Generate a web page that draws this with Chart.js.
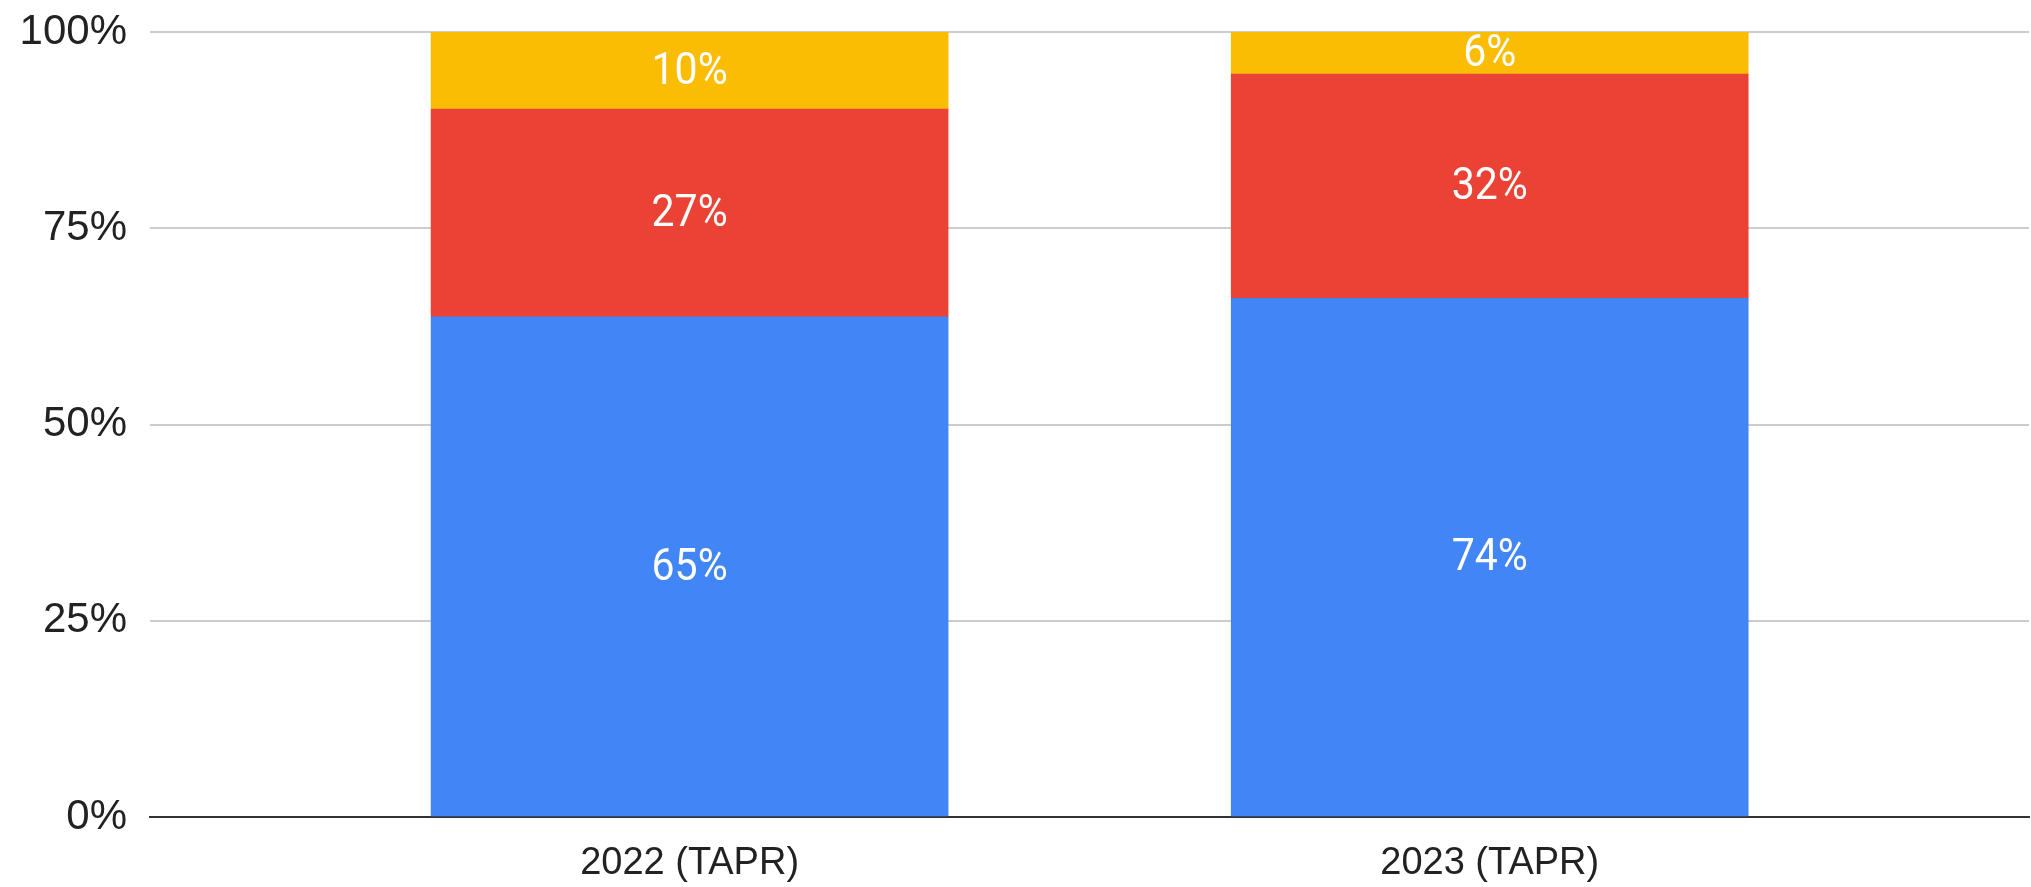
<!DOCTYPE html>
<html>
<head>
<meta charset="utf-8">
<script src="https://cdn.jsdelivr.net/npm/chart.js@4/dist/chart.umd.min.js"></script>
<style>
  html, body { margin: 0; padding: 0; background: #ffffff; }
  #wrap { width: 2031px; height: 887px; }
</style>
</head>
<body>
<div id="wrap"><canvas id="c" width="2031" height="887"></canvas></div>
<script>
const categories = ['2022 (TAPR)', '2023 (TAPR)'];
const blueValues = [65, 74];
const redValues = [27, 32];
const yellowValues = [10, 6];
const yTickValues = [0, 25, 50, 75, 100];

const totals = categories.map((c, i) => blueValues[i] + redValues[i] + yellowValues[i]);
const toPoints = (vals) => vals.map((v, i) => ({ x: i, y: v / totals[i] * 100 }));

const labelPlugin = {
  id: 'segLabels',
  afterDatasetsDraw(chart) {
    const ctx = chart.ctx;
    ctx.save();
    ctx.fillStyle = '#ffffff';
    ctx.textAlign = 'center';
    ctx.textBaseline = 'middle';
    chart.data.datasets.forEach((ds, di) => {
      const meta = chart.getDatasetMeta(di);
      meta.data.forEach((el, i) => {
        const cy = (el.y + el.base) / 2;
        ctx.save();
        ctx.translate(el.x, cy);
        ctx.scale(1, 1.08);
        ctx.font = '41px Roboto, "Liberation Sans", sans-serif';
        ctx.fillText(ds.rawValues[i] + '%', 0, 2);
        ctx.restore();
      });
    });
    ctx.restore();
  }
};

new Chart(document.getElementById('c'), {
  type: 'bar',
  data: {
    datasets: [
      { label: 'A', data: toPoints(blueValues), rawValues: blueValues, backgroundColor: '#4285F4' },
      { label: 'B', data: toPoints(redValues), rawValues: redValues, backgroundColor: '#EA4335' },
      { label: 'C', data: toPoints(yellowValues), rawValues: yellowValues, backgroundColor: '#FBBC04' }
    ]
  },
  options: {
    responsive: false,
    animation: false,
    datasets: { bar: { barThickness: 517 } },
    layout: { padding: { top: 32, right: 2, left: 0, bottom: 0 } },
    plugins: { legend: { display: false }, tooltip: { enabled: false } },
    scales: {
      x: {
        type: 'linear',
        stacked: true,
        offset: false,
        min: -0.6744,
        max: 1.674,
        afterBuildTicks: (scale) => { scale.ticks = categories.map((c, i) => ({ value: i })); },
        afterFit: (scale) => { scale.height = 70; scale.paddingLeft = 0; scale.paddingRight = 0; },
        grid: { display: false, drawTicks: false },
        border: { display: true, color: '#333333', width: 2 },
        ticks: {
          autoSkip: false,
          maxRotation: 0,
          padding: 24,
          color: '#222222',
          font: { family: '"Liberation Sans", Arial, sans-serif', size: 38 },
          callback: (v) => categories[v]
        }
      },
      y: {
        stacked: true,
        min: 0,
        max: 100,
        afterBuildTicks: (scale) => { scale.ticks = yTickValues.map(v => ({ value: v })); },
        afterFit: (scale) => { scale.width = 150; scale.paddingTop = 0; scale.paddingBottom = 0; },
        grid: { color: '#cccccc', lineWidth: 2, drawTicks: false },
        border: { display: false },
        ticks: {
          padding: 23,
          color: '#222222',
          font: { family: '"Liberation Sans", Arial, sans-serif', size: 42 },
          callback: (v) => v + '%'
        }
      }
    }
  },
  plugins: [labelPlugin]
});
</script>
</body>
</html>
